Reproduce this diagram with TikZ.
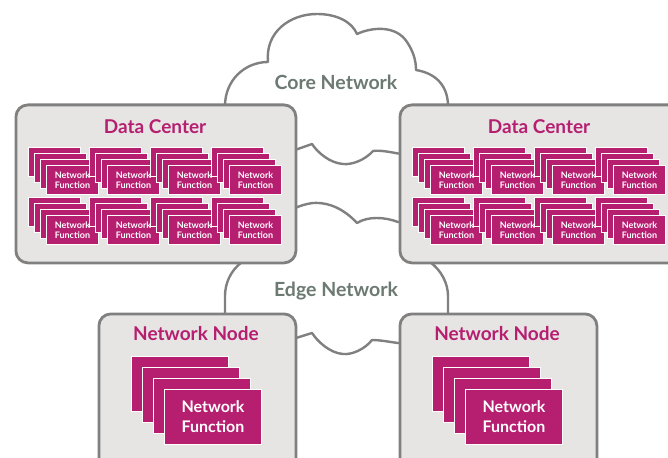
\documentclass[tikz,border=0pt]{standalone}
\usepackage{fontspec}
\setmainfont{Lato}
\definecolor{linegray}{RGB}{128,128,128}
\definecolor{boxgray}{RGB}{230,229,228}
\definecolor{nfmag}{RGB}{182,30,112}
\definecolor{cloudtxt}{RGB}{108,122,115}
\begin{document}
\begin{tikzpicture}[x=1pt,y=-1pt,
  boxstyle/.style={draw=linegray, line width=2.8pt, fill=boxgray, rounded corners=12pt, anchor=north west, inner sep=0pt},
  cloudline/.style={draw=linegray, line width=2.4pt, fill=white, line join=round},
  cloudlabel/.style={text=cloudtxt, font=\fontsize{19.5}{22}\selectfont\bfseries},
  titlelabel/.style={text=nfmag, font=\fontsize{19}{22}\selectfont\bfseries},
  nfsmall/.style={fill=nfmag, draw=white, line width=0.9pt, minimum width=52pt, minimum height=29pt, inner sep=0pt, anchor=north west, text=white, align=center, font=\fontsize{9}{10.5}\selectfont\bfseries},
  nfbig/.style={fill=nfmag, draw=white, line width=1pt, minimum width=97pt, minimum height=55pt, inner sep=0pt, anchor=north west, text=white, align=center, font=\fontsize{16}{20}\selectfont\bfseries}
]
\clip (0,0) rectangle (668,457);
\fill[white] (0,0) rectangle (668,457);

% Core network cloud
\draw[cloudline] (225,106) .. controls (225,80) and (245,62) .. (268,62)
  .. controls (265,32) and (290,14) .. (317,14)
  .. controls (337,14) and (352,22) .. (357,34)
  .. controls (372,27) and (396,25) .. (407,42)
  .. controls (413,51) and (416,60) .. (416,70)
  .. controls (440,74) and (448,90) .. (448,106)
  -- (448,153) -- (398,153.5)
  .. controls (390,152) and (380,150) .. (373,151)
  .. controls (365,160) and (352,165) .. (343,164)
  .. controls (330,163) and (318,153) .. (312,144)
  -- (295,150) -- (225,150) -- cycle;

% Edge network cloud
\draw[cloudline] (242,262) .. controls (230,271) and (225,284) .. (225,296)
  -- (225,338) -- (296,338) -- (312,333)
  .. controls (318,342) and (330,353) .. (343,354)
  .. controls (352,355) and (365,349) .. (372,340)
  .. controls (380,340) and (390,342) .. (398,343)
  -- (448,343) -- (448,296)
  .. controls (448,284) and (442,271) .. (430,262)
  -- (430,222) -- (398,222)
  .. controls (385,217) and (368,216) .. (357,223)
  .. controls (345,210) and (330,202) .. (313,203)
  .. controls (305,204) and (300,206) .. (295,208)
  -- (242,208) -- cycle;

\node[cloudlabel] (core) at (336,82) {Core Network};
\node[cloudlabel] (edge) at (336,291) {Edge Network};

% Data centers
\node[boxstyle, minimum width=280pt, minimum height=158pt] (dcL) at (14.5,103.5) {};
\node[boxstyle, minimum width=280pt, minimum height=158pt] (dcR) at (398.5,103.5) {};
\node[titlelabel] (dcLt) at (155,127) {Data Center};
\node[titlelabel] (dcRt) at (539,127) {Data Center};

\foreach \ox/\nm in {0/L,384/R}{
  \foreach \i in {0,1,2,3}{
    \foreach \j in {0,1}{
      \foreach \k in {0,1,2}{
        \node[nfsmall] (nf\nm\i\j\k) at ({28+\ox+61*\i+6*\k},{147+50*\j+6*\k}) {};
      }
      \node[nfsmall] (nf\nm\i\j3) at ({28+\ox+61*\i+18},{147+50*\j+18}) {Network\\Function};
    }
  }
}

% Network nodes
\node[boxstyle, minimum width=197pt, minimum height=200pt] (nnL) at (97.5,312.5) {};
\node[boxstyle, minimum width=197pt, minimum height=200pt] (nnR) at (398.5,312.5) {};
\node[titlelabel] (nnLt) at (196,334) {Network Node};
\node[titlelabel] (nnRt) at (497,334) {Network Node};

\foreach \ox/\nm in {0/L,301/R}{
  \foreach \k in {0,1,2}{
    \node[nfbig] (bnf\nm\k) at ({131+\ox+11*\k},{356+11*\k}) {};
  }
  \node[nfbig] (bnf\nm3) at ({164+\ox},{389}) {Network\\Function};
}
\end{tikzpicture}
\end{document}
